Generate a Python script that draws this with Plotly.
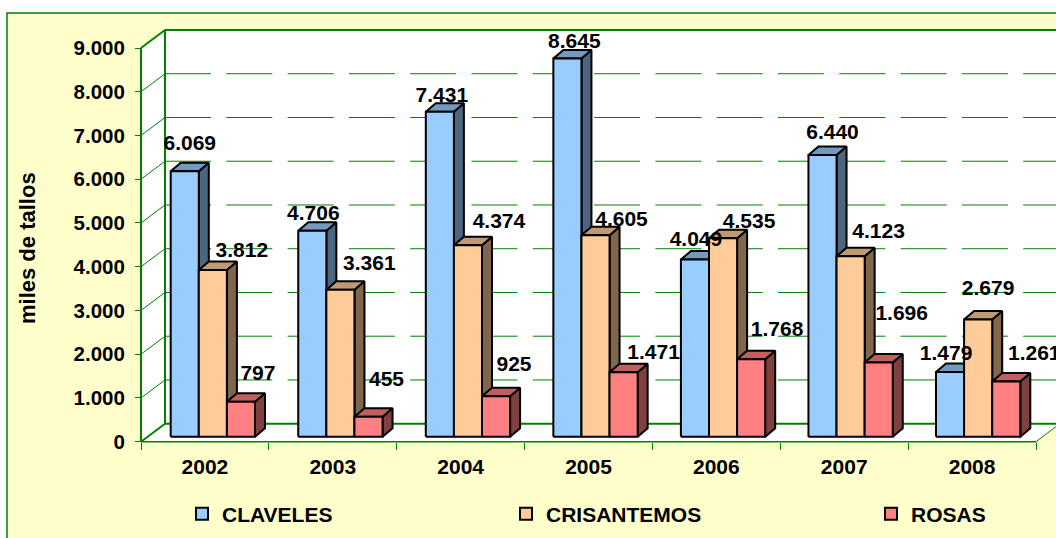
import plotly.graph_objects as go

# ---- data ----
years = ["2002", "2003", "2004", "2005", "2006", "2007", "2008"]
claveles = [6069, 4706, 7431, 8645, 4049, 6440, 1479]
crisantemos = [3812, 3361, 4374, 4605, 4535, 4123, 2679]
rosas = [797, 455, 925, 1471, 1768, 1696, 1261]
series_names = ["CLAVELES", "CRISANTEMOS", "ROSAS"]
y_ticks = [0, 1000, 2000, 3000, 4000, 5000, 6000, 7000, 8000, 9000]

# ---- layout geometry (pixels on the 1056x538 page) ----
W, H = 1056, 538
L, R, T, B = 141, 1036, 48, 441.7
XU = (R - L) / len(years)          # px per category
YU = (B - T) / 9000                # px per value unit
FONT = "Liberation Sans, Arial, sans-serif"
GREEN = "#008000"
PANEL = "#FFFFCC"
FS = 21

def dx(px): return px / XU
def dy(px): return px / YU

# 3D offsets
WALL_X, WALL_Y = dx(24), dy(18)
DEPTH_X, DEPTH_Y = dx(10), dy(8.5)
BAR_W = dx(28.1)
BAR_START = dx(29.7)
BAR_STEP = dx(127.55)
BAR_BASE = dy(5)

face_colors = [
    ("#99CCFF", "#4D6680", "#7399BF"),
    ("#FFCC99", "#80664D", "#BF9973"),
    ("#FF8080", "#804040", "#BF6060"),
]
# manual label offsets in px from the bar's front top centre (as placed in the source)
label_dx = [[5, 1, 2, 7, 1, 10, -4],
            [29, 29, 31, 26, 26, 28, 10],
            [17, 18, 18, 30, 26, 23, 28]]
label_dy = [[26, 16, 15, 16, 19, 21, 17],
            [18, 25, 23, 15, 16, 24, 30],
            [27, 36, 30, 19, 29, 48, 27]]

fig = go.Figure()

def poly(xs, ys, fill, line=None, lw=0):
    xs = list(xs) + [xs[0]]
    ys = list(ys) + [ys[0]]
    fig.add_trace(go.Scatter(
        x=xs, y=ys, mode="lines", fill="toself", fillcolor=fill,
        line=dict(color=line or fill, width=lw, simplify=False), hoverinfo="skip",
        showlegend=False))

def seg(xs, ys, w=1, dash="solid"):
    fig.add_trace(go.Scatter(
        x=xs, y=ys, mode="lines", line=dict(color=GREEN, width=w, dash=dash),
        hoverinfo="skip", showlegend=False))

n = len(years)
# back wall, side wall, floor (white)
poly([WALL_X, n + WALL_X, n + WALL_X, WALL_X], [WALL_Y, WALL_Y, 9000 + WALL_Y, 9000 + WALL_Y], "white")
poly([0, WALL_X, WALL_X, 0], [0, WALL_Y, 9000 + WALL_Y, 9000], "white")
poly([0, n, n + WALL_X, WALL_X], [0, 0, WALL_Y, WALL_Y], "white")

# gridlines
for v in y_ticks[1:-1]:
    seg([WALL_X, n + WALL_X], [v + WALL_Y, v + WALL_Y], 1, "46px,15.3px")
    seg([0, WALL_X], [v, v + WALL_Y], 1)
# frame
seg([WALL_X, n + WALL_X], [9000 + WALL_Y, 9000 + WALL_Y], 2)
seg([WALL_X, WALL_X], [WALL_Y, 9000 + WALL_Y], 2)
seg([0, WALL_X], [9000, 9000 + WALL_Y], 2)
seg([0, WALL_X], [0, WALL_Y], 2)
seg([WALL_X, n + WALL_X], [WALL_Y, WALL_Y], 2)
seg([0, 0], [0, 9000], 2)
seg([n, n + WALL_X], [0, WALL_Y], 1)
seg([0, n], [0, 0], 1.5)

# bars
all_series = [claveles, crisantemos, rosas]
label_x, label_y, label_text = [], [], []
for j, vals in enumerate(all_series):
    front, side, top = face_colors[j]
    for i, v in enumerate(vals):
        x0 = BAR_START + BAR_STEP * i + BAR_W * j
        x1 = x0 + BAR_W
        y0, y1 = BAR_BASE, BAR_BASE + v
        poly([x1, x1 + DEPTH_X, x1 + DEPTH_X, x1], [y0, y0 + DEPTH_Y, y1 + DEPTH_Y, y1], side, "black", 2)
        poly([x0, x1, x1 + DEPTH_X, x0 + DEPTH_X], [y1, y1, y1 + DEPTH_Y, y1 + DEPTH_Y], top, "black", 2)
        poly([x0, x1, x1, x0], [y0, y0, y1, y1], front, "black", 2)
        label_x.append((x0 + x1) / 2 + dx(label_dx[j][i]))
        label_y.append(y1 + dy(label_dy[j][i]))
        label_text.append(f"{v:,}".replace(",", "."))

fig.add_trace(go.Scatter(
    x=label_x, y=label_y, text=label_text, mode="text", textposition="middle center",
    textfont=dict(family=FONT, size=FS, color="black", weight="bold"),
    hoverinfo="skip", showlegend=False))

# legend keys
legend_ids = ["legend", "legend2", "legend3"]
for name, cols, lid in zip(series_names, face_colors, legend_ids):
    fig.add_trace(go.Scatter(
        x=[None], y=[None], mode="markers", name=name, legend=lid,
        marker=dict(symbol="square", size=12, color=cols[0], line=dict(color="black", width=2))))

legend_px = [182, 506, 871]
legend_py = 514
def leg(px):
    return dict(x=px / W, y=1 - legend_py / H, xanchor="left", yanchor="middle",
                bgcolor="rgba(0,0,0,0)", borderwidth=0, itemclick=False, itemdoubleclick=False,
                font=dict(family=FONT, size=FS, color="black", weight="bold"))

fig.update_layout(
    width=W, height=H,
    margin=dict(l=0, r=0, t=0, b=0, pad=0),
    paper_bgcolor="white", plot_bgcolor="rgba(0,0,0,0)",
    separators=",.",
    showlegend=True,
    legend=leg(legend_px[0]), legend2=leg(legend_px[1]), legend3=leg(legend_px[2]),
    xaxis=dict(range=[-L / XU, (W - L) / XU], domain=[0, 1], anchor="free", position=1 - B / H,
               tickvals=[i + 0.5 for i in range(n)], ticktext=years, ticks="",
               showgrid=False, zeroline=False, showline=False, ticklabelstandoff=10,
               tickfont=dict(family=FONT, size=FS, color="black", weight="bold"),
               minor=dict(tickvals=list(range(n + 1)), ticks="outside", ticklen=7, tickcolor=GREEN, tickwidth=1, showgrid=False)),
    yaxis=dict(range=[(B - H) / YU, B / YU], domain=[0, 1], anchor="free", position=L / W,
               tickvals=y_ticks, tickformat=",d", ticks="outside", ticklen=6,
               tickcolor=GREEN, tickwidth=1, showgrid=False, zeroline=False, showline=False,
               ticklabelstandoff=6,
               tickfont=dict(family=FONT, size=20.5, color="black", weight="bold")),
    shapes=[dict(type="rect", layer="below", xref="paper", yref="paper",
                 x0=7 / W, x1=1.02, y0=-0.05, y1=1 - 13 / H,
                 fillcolor=PANEL, line=dict(color=GREEN, width=1.5))],
    annotations=[dict(text="miles de tallos", xref="paper", yref="paper",
                      x=28 / W, y=1 - 248 / H, textangle=-90, showarrow=False,
                      xanchor="center", yanchor="middle",
                      font=dict(family=FONT, size=22, color="black", weight="bold"))],
)

fig.write_html("out.html", config={"displayModeBar": False},
               post_script="document.body.style.margin='0';")
